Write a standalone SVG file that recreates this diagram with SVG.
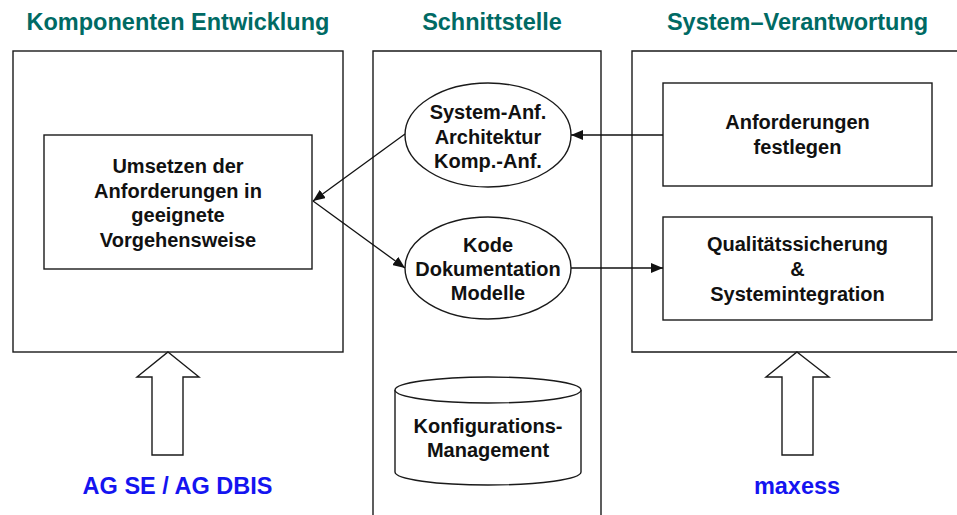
<svg xmlns="http://www.w3.org/2000/svg" width="957" height="515" viewBox="0 0 957 515">
  <style>
    .frame { fill: #ffffff; stroke: #1a1a1a; stroke-width: 1.4; }
    .title { font-family: "Liberation Sans", Arial, sans-serif; font-weight: bold; font-size: 23.5px; fill: #006a64; text-anchor: middle; }
    .label { font-family: "Liberation Sans", Arial, sans-serif; font-weight: bold; font-size: 20px; fill: #111111; text-anchor: middle; }
    .who { font-family: "Liberation Sans", Arial, sans-serif; font-weight: bold; font-size: 23.5px; fill: #1414f0; text-anchor: middle; }
    .link { fill: none; stroke: #111111; stroke-width: 1.3; }
  </style>
  <defs>
    <marker id="head" viewBox="0 0 12 10" refX="12" refY="5" markerWidth="12" markerHeight="10" markerUnits="userSpaceOnUse" orient="auto">
      <path d="M0,0 L12,5 L0,10 Z" fill="#111111"/>
    </marker>
  </defs>

  <rect width="957" height="515" fill="#ffffff"/>

  <!-- column headings -->
  <text class="title" x="178" y="30">Komponenten Entwicklung</text>
  <text class="title" x="492" y="30">Schnittstelle</text>
  <text class="title" x="797.5" y="30">System–Verantwortung</text>

  <!-- column frames -->
  <g id="col-komponenten">
    <rect class="frame" x="13" y="51" width="330" height="301"/>
  </g>
  <g id="col-schnittstelle">
    <path class="frame" d="M373,520 L373,51 L601,51 L601,520"/>
  </g>
  <g id="col-system">
    <path class="frame" d="M960,51 L632,51 L632,352 L960,352"/>
  </g>

  <!-- nodes -->
  <g id="umsetzen">
    <rect class="frame" x="44" y="135" width="268" height="134"/>
    <text class="label" x="178" y="173">Umsetzen der</text>
    <text class="label" x="178" y="197.5">Anforderungen in</text>
    <text class="label" x="178" y="222">geeignete</text>
    <text class="label" x="178" y="246.5">Vorgehensweise</text>
  </g>

  <g id="anforderungen-doc">
    <ellipse class="frame" cx="488" cy="135" rx="83" ry="52"/>
    <text class="label" x="488" y="119">System-Anf.</text>
    <text class="label" x="488" y="143.5">Architektur</text>
    <text class="label" x="488" y="168">Komp.-Anf.</text>
  </g>

  <g id="kode-doc">
    <ellipse class="frame" cx="488" cy="268" rx="83" ry="51"/>
    <text class="label" x="488" y="252">Kode</text>
    <text class="label" x="488" y="276">Dokumentation</text>
    <text class="label" x="488" y="300">Modelle</text>
  </g>

  <g id="konfiguration">
    <path class="frame" d="M395,390 L395,472 A93,13 0 0 0 581,472 L581,390 A93,13 0 0 0 395,390 Z"/>
    <path class="frame" d="M395,390 A93,13 0 0 0 581,390"/>
    <text class="label" x="488" y="433">Konfigurations-</text>
    <text class="label" x="488" y="457">Management</text>
  </g>

  <g id="anforderungen-festlegen">
    <rect class="frame" x="663" y="83" width="269" height="103"/>
    <text class="label" x="797.5" y="129">Anforderungen</text>
    <text class="label" x="797.5" y="154">festlegen</text>
  </g>

  <g id="qualitaet">
    <rect class="frame" x="663" y="217" width="269" height="103"/>
    <text class="label" x="797.5" y="251">Qualitätssicherung</text>
    <text class="label" x="797.5" y="276">&amp;</text>
    <text class="label" x="797.5" y="301">Systemintegration</text>
  </g>

  <!-- input arrows and their sources -->
  <g id="ag-se">
    <path class="frame" d="M168,352 L199,377 L183,377 L183,455 L152,455 L152,377 L137,377 Z"/>
    <text class="who" x="177.5" y="494">AG SE / AG DBIS</text>
  </g>
  <g id="maxess">
    <path class="frame" d="M797,352 L829,377 L813,377 L813,455 L782,455 L782,377 L766,377 Z"/>
    <text class="who" x="797" y="494">maxess</text>
  </g>

  <!-- connectors -->
  <g id="connectors">
    <line class="link" x1="663" y1="135" x2="571" y2="135" marker-end="url(#head)"/>
    <line class="link" x1="405" y1="134" x2="313" y2="201" marker-end="url(#head)"/>
    <line class="link" x1="313" y1="201" x2="405" y2="268" marker-end="url(#head)"/>
    <line class="link" x1="571" y1="268" x2="663" y2="268" marker-end="url(#head)"/>
  </g>
</svg>
